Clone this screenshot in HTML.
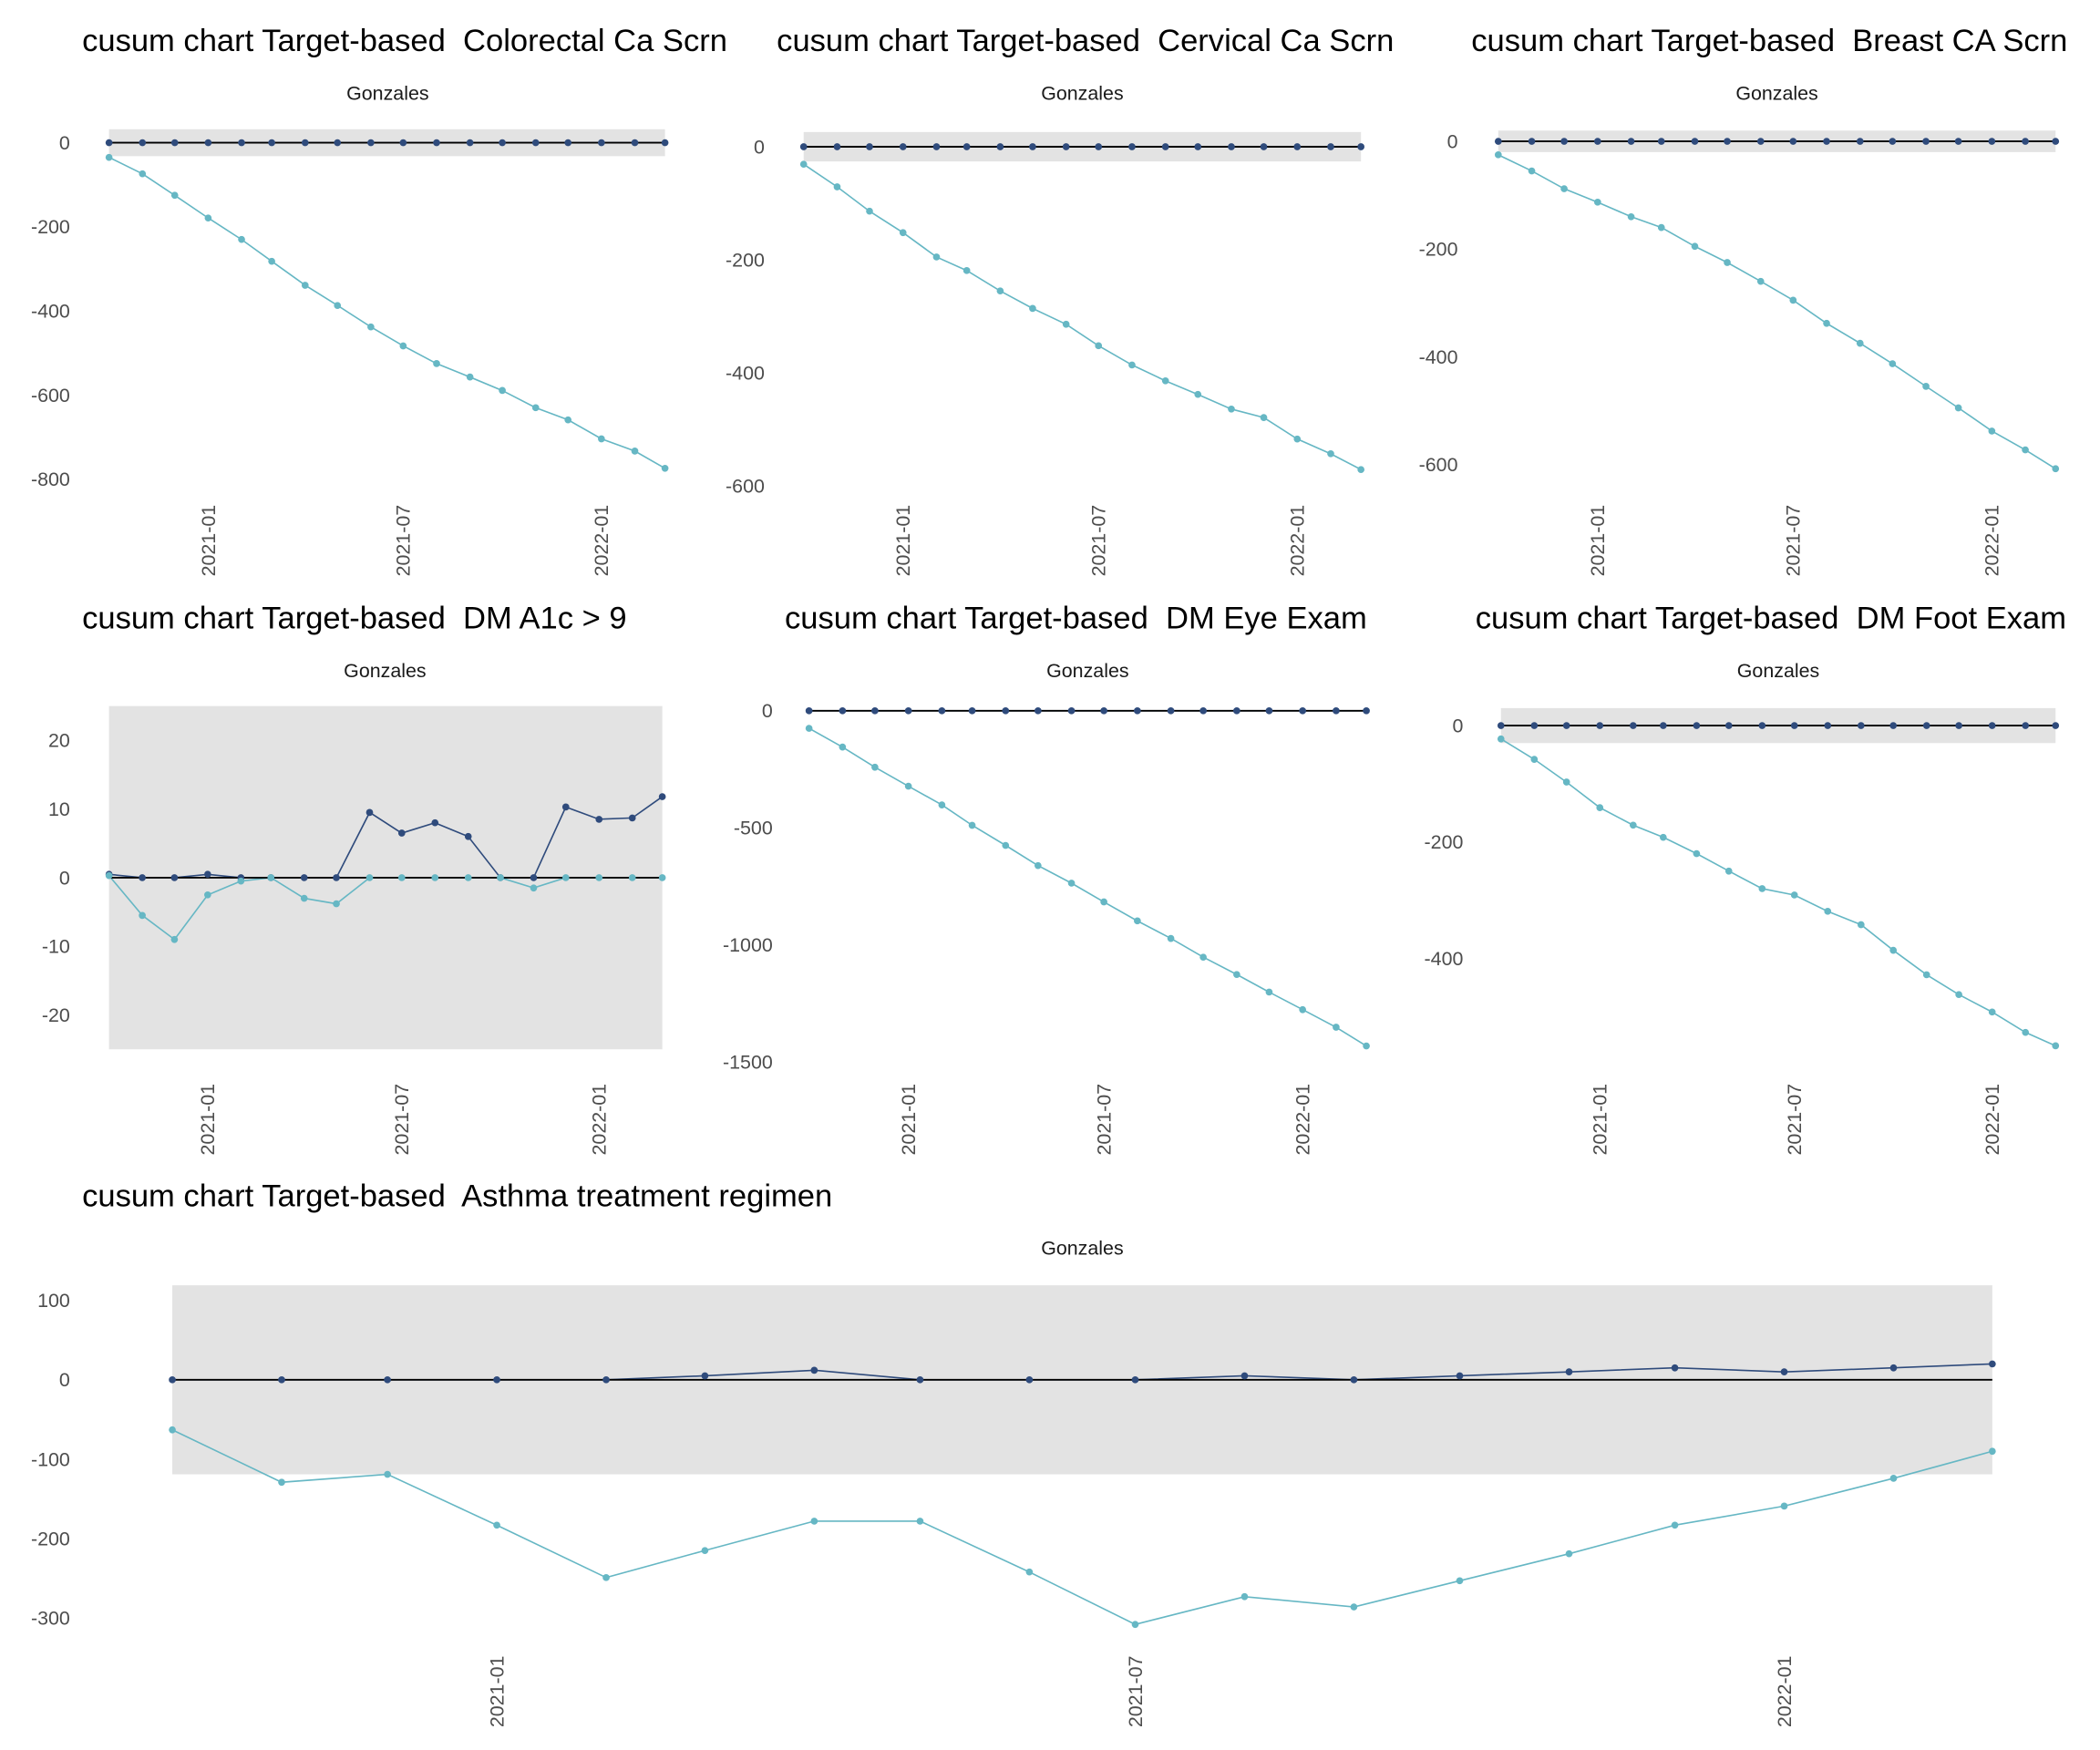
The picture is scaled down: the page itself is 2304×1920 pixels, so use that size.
<!DOCTYPE html>
<html><head><meta charset="utf-8"><style>
html,body{margin:0;padding:0;background:#fff}
svg{display:block}
text{font-family:"Liberation Sans",sans-serif}
</style></head><body>
<svg id="chart" width="2304" height="1920" viewBox="0 0 1560 1300" xmlns="http://www.w3.org/2000/svg"></svg>
<script>
const months = ["2020-10","2020-11","2020-12","2021-01","2021-02","2021-03","2021-04","2021-05","2021-06","2021-07","2021-08","2021-09","2021-10","2021-11","2021-12","2022-01","2022-02","2022-03"];
const tickLabels = ["2021-01","2021-07","2022-01"];
const titles = ["Colorectal Ca Scrn","Cervical Ca Scrn","Breast CA Scrn","DM A1c > 9","DM Eye Exam","DM Foot Exam","Asthma treatment regimen"];
const lowColorectal = [-35,-74,-125,-179,-230,-282,-339,-387,-438,-483,-525,-557,-589,-630,-659,-704,-733,-774];
const highColorectal = [0,0,0,0,0,0,0,0,0,0,0,0,0,0,0,0,0,0];
const lowCervical = [-31,-71,-114,-152,-195,-219,-255,-286,-314,-352,-386,-414,-438,-464,-479,-517,-543,-571];
const highCervical = [0,0,0,0,0,0,0,0,0,0,0,0,0,0,0,0,0,0];
const lowBreast = [-25,-55,-88,-113,-140,-160,-195,-225,-260,-295,-338,-375,-413,-455,-495,-538,-573,-608];
const highBreast = [0,0,0,0,0,0,0,0,0,0,0,0,0,0,0,0,0,0];
const lowA1c = [0.3,-5.5,-9,-2.5,-0.5,0,-3,-3.8,0,0,0,0,0,-1.5,0,0,0,0];
const highA1c = [0.5,0,0,0.5,0,0,0,0,9.5,6.5,8,6,0,0,10.3,8.5,8.7,11.8];
const lowEye = [-75,-155,-241,-322,-402,-489,-575,-661,-736,-816,-897,-972,-1052,-1126,-1201,-1276,-1351,-1431];
const highEye = [0,0,0,0,0,0,0,0,0,0,0,0,0,0,0,0,0,0];
const lowFoot = [-23,-58,-97,-141,-171,-192,-220,-250,-280,-291,-319,-342,-386,-428,-462,-492,-527,-550];
const highFoot = [0,0,0,0,0,0,0,0,0,0,0,0,0,0,0,0,0,0];
const lowAsthma = [-63,-129,-119,-183,-249,-215,-178,-178,-242,-308,-273,-286,-253,-219,-183,-159,-124,-90];
const highAsthma = [0,0,0,0,0,5,12,0,0,0,5,0,5,10,15,10,15,20];
const bandLimits = [32,26,20,25,3,30,119];
const yTicks = [[0,-200,-400,-600,-800],[0,-200,-400,-600],[0,-200,-400,-600],[20,10,0,-10,-20],[0,-500,-1000,-1500],[0,-200,-400],[100,0,-100,-200,-300]];

const lows=[lowColorectal,lowCervical,lowBreast,lowA1c,lowEye,lowFoot,lowAsthma];
const highs=[highColorectal,highCervical,highBreast,highA1c,highEye,highFoot,highAsthma];
const layout=[
 [81,494,106,62.5/200,61,38,288,52,375],
 [597,1011,109,84/200,577,38,804,568,375],
 [1113,1527,105,80/200,1093,38,1320,1083,375],
 [81,492,652,5.1,61,467,286,52,805],
 [601,1015,528,87/500,583,467,808,574,805],
 [1115,1527,539,86.5/200,1096,467,1321,1087,805],
 [128,1480,1025,59/100,61,896,804,52,1230]
];
const svg=document.getElementById('chart');
const NS="http://www.w3.org/2000/svg";
function mk(tag,attrs,parent){const e=document.createElementNS(NS,tag);for(const k in attrs)e.setAttribute(k,attrs[k]);(parent||svg).appendChild(e);return e;}
function dayOf(s){const p=s.split('-');return Date.UTC(+p[0],+p[1]-1,1)/86400000;}
const d0=dayOf(months[0]),d1=dayOf(months[months.length-1]);
layout.forEach((L,i)=>{
  const [x0,x1,yz,k,tx,ty,sx,yr,xl]=L;
  const g=mk('g',{});
  
  
  const X=m=>x0+(dayOf(m)-d0)/(d1-d0)*(x1-x0);
  const Y=v=>yz-v*k;
  const t=mk('text',{x:tx,y:ty,'font-size':23.4,fill:'#000'},g);
  t.textContent='cusum chart Target-based  '+titles[i];
  
  
  t.setAttribute('xml:space','preserve');
  t.style.whiteSpace='pre';
  const s=mk('text',{x:sx,y:ty+36,'font-size':14.5,fill:'#1a1a1a','text-anchor':'middle'},g);
  s.textContent='Gonzales';
  
  
  const b=bandLimits[i];
  const r=mk('rect',{x:x0,y:Y(b),width:x1-x0,height:Y(-b)-Y(b),fill:'#e3e3e3'},g);
  
  
  yTicks[i].forEach(v=>{
    const tt=mk('text',{x:yr,y:Y(v)+5,'font-size':14.5,fill:'#4d4d4d','text-anchor':'end'},g);
    tt.textContent=String(v);
    
    
  });
  tickLabels.forEach(m=>{
    const x=X(m);
    const tt=mk('text',{x:0,y:0,'font-size':14.5,fill:'#4d4d4d','text-anchor':'end',transform:`translate(${x+5},${xl}) rotate(-90)`},g);
    tt.textContent=m;
    
    
  });
  function series(vals,color,name){
    const pts=vals.map((v,j)=>X(months[j]).toFixed(1)+','+Y(v).toFixed(1)).join(' ');
    const pl=mk('polyline',{points:pts,fill:'none',stroke:color,'stroke-width':1.1},g);
    
    
    return pl;
  }
  series(highs[i],'#2f4b7c','upper-cusum');
  series(lows[i],'#66b7c4','lower-cusum');
  const zl=mk('line',{x1:x0,x2:x1,y1:Y(0),y2:Y(0),stroke:'#000','stroke-width':1.3},g);
  
  
  highs[i].forEach((v,j)=>{
    const c=mk('circle',{cx:X(months[j]),cy:Y(v),r:2.6,fill:'#2f4b7c'},g);
    
    
  });
  lows[i].forEach((v,j)=>{
    const c=mk('circle',{cx:X(months[j]),cy:Y(v),r:2.6,fill:'#66b7c4'},g);
    
    
  });
});
</script>
</body></html>
